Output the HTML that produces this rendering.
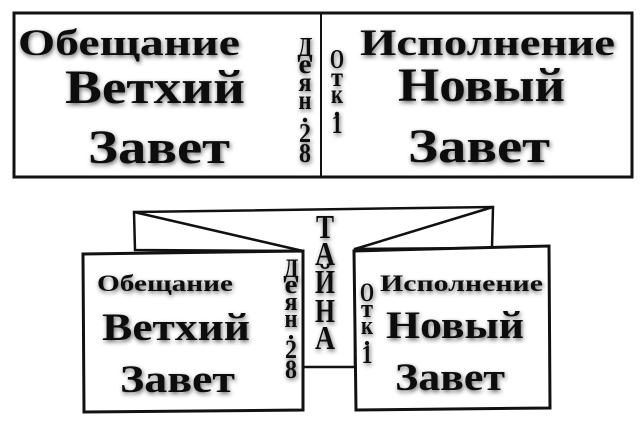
<!DOCTYPE html>
<html><head><meta charset="utf-8"><style>
html,body{margin:0;padding:0;background:#fff;}
svg{display:block;}
text{font-family:"Liberation Serif",serif;font-weight:bold;fill:#111;}
</style></head><body>
<svg width="641" height="427" viewBox="0 0 641 427" xmlns="http://www.w3.org/2000/svg">
<defs>
<filter id="sh" x="-20%" y="-20%" width="140%" height="140%">
<feGaussianBlur in="SourceAlpha" stdDeviation="2.5"/>
<feOffset dx="1" dy="2" result="b"/>
<feComponentTransfer><feFuncA type="linear" slope="0.6"/></feComponentTransfer>
<feMerge><feMergeNode/><feMergeNode in="SourceGraphic"/></feMerge>
</filter>
</defs>
<rect x="14" y="13" width="618" height="164" fill="none" stroke="#111" stroke-width="3"/>
<line x1="321" y1="13" x2="321" y2="177" stroke="#111" stroke-width="2"/>
<g filter="url(#sh)">
<text x="18" y="55" font-size="37" textLength="222" lengthAdjust="spacingAndGlyphs">Обещание</text>
<text x="65" y="103" font-size="48" textLength="180" lengthAdjust="spacingAndGlyphs">Ветхий</text>
<text x="88" y="163" font-size="48" textLength="142" lengthAdjust="spacingAndGlyphs">Завет</text>
<text x="360" y="55" font-size="37" textLength="255" lengthAdjust="spacingAndGlyphs">Исполнение</text>
<text x="398" y="101" font-size="48" textLength="167" lengthAdjust="spacingAndGlyphs">Новый</text>
<text x="408" y="162" font-size="48" textLength="142" lengthAdjust="spacingAndGlyphs">Завет</text>
<g font-size="27" text-anchor="middle" font-weight="bold">
<text x="305" y="56" textLength="15" lengthAdjust="spacingAndGlyphs">Д</text>
<text x="305" y="73" textLength="13" lengthAdjust="spacingAndGlyphs">е</text>
<text x="305" y="91" textLength="13" lengthAdjust="spacingAndGlyphs">я</text>
<text x="305" y="109" textLength="13" lengthAdjust="spacingAndGlyphs">н</text>
<text x="305" y="122">.</text>
<text x="305" y="142" textLength="12" lengthAdjust="spacingAndGlyphs">2</text>
<text x="305" y="162" textLength="12" lengthAdjust="spacingAndGlyphs">8</text>
<text x="337" y="68" textLength="14" lengthAdjust="spacingAndGlyphs">О</text>
<text x="337" y="86" textLength="12" lengthAdjust="spacingAndGlyphs">т</text>
<text x="337" y="103" textLength="12" lengthAdjust="spacingAndGlyphs">к</text>
<text x="337" y="116">.</text>
<text x="337" y="133" textLength="11" lengthAdjust="spacingAndGlyphs">1</text>
</g>
</g>
<polygon points="134,212 493,207 492,248 355,249 355,367 303,367 303,251 135,250" fill="#fff" stroke="#111" stroke-width="2.5"/>
<line x1="134" y1="212" x2="303" y2="251" stroke="#111" stroke-width="2.5"/>
<line x1="493" y1="207" x2="355" y2="249" stroke="#111" stroke-width="2.5"/>
<polygon points="83,254 303,251 303,410 84,412" fill="#fff" stroke="#111" stroke-width="3"/>
<polygon points="354,251 549,246 550,408 356,410" fill="#fff" stroke="#111" stroke-width="3"/>
<g filter="url(#sh)">
<g font-size="34" text-anchor="middle">
<text x="325" y="238" textLength="18" lengthAdjust="spacingAndGlyphs">Т</text>
<text x="325" y="265" textLength="20" lengthAdjust="spacingAndGlyphs">А</text>
<text x="325" y="293" textLength="20" lengthAdjust="spacingAndGlyphs">Й</text>
<text x="325" y="322" textLength="20" lengthAdjust="spacingAndGlyphs">Н</text>
<text x="325" y="349" textLength="20" lengthAdjust="spacingAndGlyphs">А</text>
</g>
<g font-size="26" text-anchor="middle">
<text x="291" y="277" textLength="15" lengthAdjust="spacingAndGlyphs">Д</text>
<text x="291" y="293" textLength="13" lengthAdjust="spacingAndGlyphs">е</text>
<text x="291" y="310" textLength="13" lengthAdjust="spacingAndGlyphs">я</text>
<text x="291" y="327" textLength="13" lengthAdjust="spacingAndGlyphs">н</text>
<text x="291" y="339">.</text>
<text x="291" y="358" textLength="12" lengthAdjust="spacingAndGlyphs">2</text>
<text x="291" y="378" textLength="12" lengthAdjust="spacingAndGlyphs">8</text>
<text x="367" y="301" textLength="14" lengthAdjust="spacingAndGlyphs">О</text>
<text x="367" y="317" textLength="12" lengthAdjust="spacingAndGlyphs">т</text>
<text x="367" y="334" textLength="12" lengthAdjust="spacingAndGlyphs">к</text>
<text x="367" y="345">.</text>
<text x="367" y="363" textLength="11" lengthAdjust="spacingAndGlyphs">1</text>
</g>
<text x="97" y="291" font-size="23" textLength="136" lengthAdjust="spacingAndGlyphs">Обещание</text>
<text x="102" y="340" font-size="39" textLength="148" lengthAdjust="spacingAndGlyphs">Ветхий</text>
<text x="120" y="392" font-size="39" textLength="115" lengthAdjust="spacingAndGlyphs">Завет</text>
<text x="380" y="291" font-size="23" textLength="163" lengthAdjust="spacingAndGlyphs">Исполнение</text>
<text x="386" y="338" font-size="39" textLength="138" lengthAdjust="spacingAndGlyphs">Новый</text>
<text x="395" y="390" font-size="39" textLength="110" lengthAdjust="spacingAndGlyphs">Завет</text>
</g>
</svg>
</body></html>
